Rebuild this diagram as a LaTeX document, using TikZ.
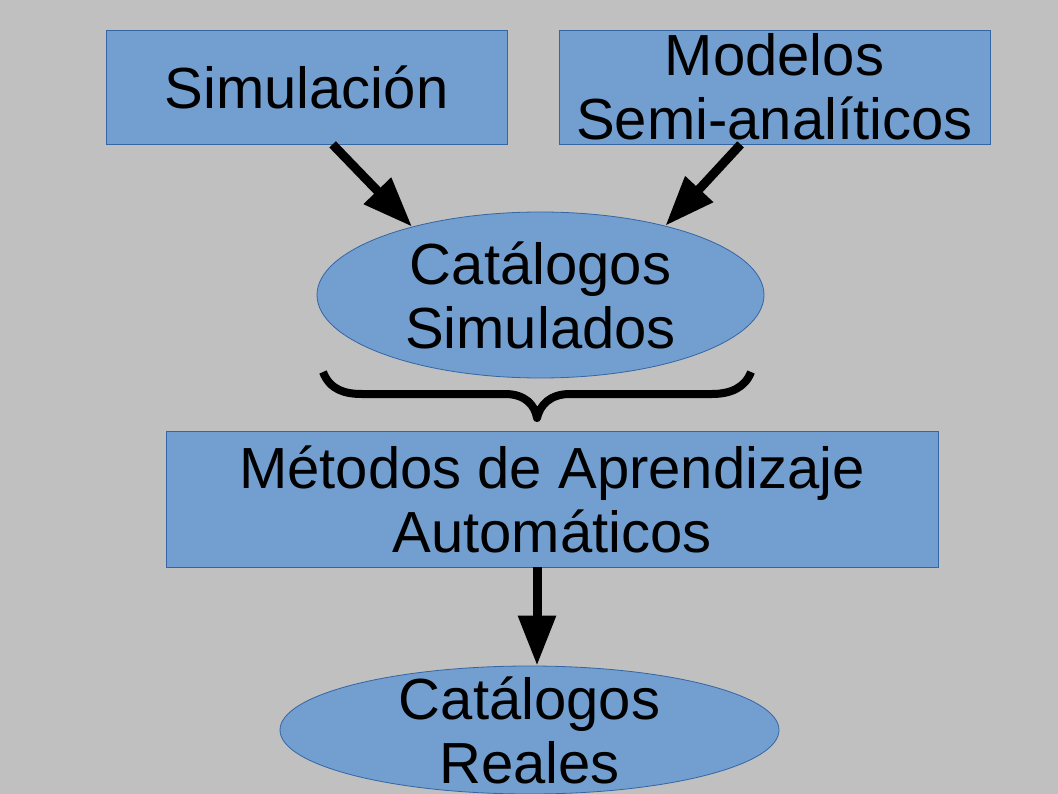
\documentclass[tikz,border=0pt]{standalone}
\usepackage{fontspec}
\setmainfont{Liberation Sans}
\usetikzlibrary{shapes.geometric,arrows.meta}
\definecolor{bg}{HTML}{C0C0C0}
\definecolor{boxfill}{HTML}{729FCF}
\definecolor{boxline}{HTML}{3465A4}
\begin{document}
\begin{tikzpicture}[x=1pt,y=-1pt,
 box/.style={draw=boxline,fill=boxfill,line width=0.8pt,inner sep=0pt,align=center,font=\fontsize{58}{64}\selectfont},
 rbox/.style={box,rectangle},
 ebox/.style={box,ellipse,inner ysep=-25pt},
 arr/.style={line width=9pt,-{Triangle[length=50pt,width=36pt]}}]
\fill[bg] (0,0) rectangle (1058,794);
\useasboundingbox (0,0) rectangle (1058,794);
\node[rbox,minimum width=401pt,minimum height=114pt] (sim) at (306.5,87) {Simulación};
\node[rbox,minimum width=431pt,minimum height=114pt] (sam) at (774.5,87) {Modelos\\Semi-analíticos};
\node[ebox,minimum width=447pt,minimum height=166pt] (cs) at (540.5,295) {Catálogos\\Simulados};
\node[rbox,minimum width=772pt,minimum height=136pt] (ma) at (552,499) {Métodos de Aprendizaje\\Automáticos};
\node[ebox,minimum width=499pt,minimum height=128pt] (cr) at (529.5,730) {Catálogos\\Reales};
\draw[arr] ([xshift=227pt]sim.south west) -- (cs.152);
\draw[arr] ([xshift=182pt]sam.south west) -- (cs.29);
\draw[arr] ([xshift=-15pt]ma.south) -- ([xshift=-15pt]ma.south |- cr.north);
\draw[line width=8pt,line join=round] (323,372) .. controls (330,390) and (345,394) .. (362,394) -- (505,394) .. controls (525,394) and (535,405) .. (537,418) .. controls (540,405) and (550,394) .. (570,394) -- (712,394) .. controls (730,394) and (745,388) .. (751,372);
\end{tikzpicture}
\end{document}
